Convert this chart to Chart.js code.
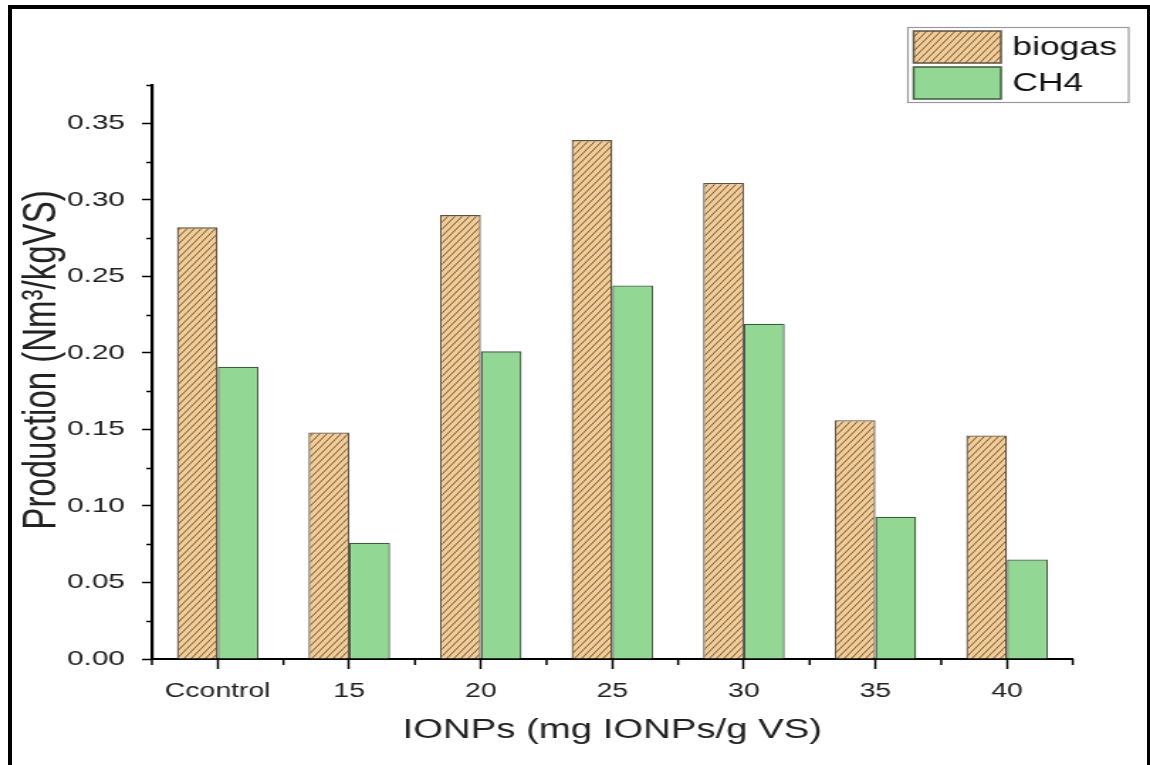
<!DOCTYPE html>
<html>
<head>
<meta charset="utf-8">
<script src="https://cdn.jsdelivr.net/npm/chart.js@4.4.1/dist/chart.umd.min.js"></script>
<style>
  html, body { margin: 0; padding: 0; background: #ffffff; }
  #wrap { position: relative; width: 1150px; height: 765px; overflow: hidden; }
  #stretch { position: absolute; left: 0; top: 0; width: 810px; height: 765px;
             transform: scaleX(1.419753); transform-origin: 0 0; }
  #c { display: block; }
  #frame { position: absolute; left: 8px; top: 5px; width: 1135px; height: 800px;
           border-left: 4px solid #000; border-top: 4px solid #000; border-right: 3px solid #000;
           pointer-events: none; }
</style>
</head>
<body>
<div id="wrap">
  <div id="stretch"><canvas id="c" width="810" height="765"></canvas></div>
  <div id="frame"></div>
</div>
<script>
// ---- data ----
const categories = ['Ccontrol', '15', '20', '25', '30', '35', '40'];
const biogas = [0.282, 0.148, 0.290, 0.339, 0.311, 0.156, 0.146];
const ch4 = [0.191, 0.076, 0.201, 0.244, 0.219, 0.093, 0.065];
const seriesNames = ['biogas', 'CH4'];
const yTicksMajor = [0, 0.05, 0.10, 0.15, 0.20, 0.25, 0.30, 0.35];
const yTitle = 'Production (Nm³/kgVS)';
const xTitle = 'IONPs (mg IONPs/g VS)';

const FONT = '"Liberation Sans", Arial, Helvetica, sans-serif';

function hatchPattern() {
  const w = 5, h = 7;
  const cv = document.createElement('canvas');
  cv.width = w; cv.height = h;
  const g = cv.getContext('2d');
  g.fillStyle = '#f4cd96';
  g.fillRect(0, 0, w, h);
  g.strokeStyle = '#6e5a44';
  g.lineWidth = 1.0;
  g.beginPath();
  g.moveTo(-w, 2 * h); g.lineTo(2 * w, -h);
  g.moveTo(-2 * w, 2 * h); g.lineTo(w, -h);
  g.moveTo(0, 2 * h); g.lineTo(3 * w, -h);
  g.stroke();
  const ctx = document.getElementById('c').getContext('2d');
  return ctx.createPattern(cv, 'repeat');
}
const hatch = hatchPattern();

const minorTicks = {
  id: 'minorTicks',
  afterDraw(chart) {
    const ctx = chart.ctx;
    const y = chart.scales.y, x = chart.scales.x;
    ctx.save();
    ctx.strokeStyle = '#000';
    ctx.lineWidth = 1.5;
    ctx.beginPath();
    for (let i = 0; i < yTicksMajor.length; i++) {
      const v = yTicksMajor[i] + 0.025;
      const py = Math.round(y.getPixelForValue(v)) + 0.5;
      ctx.moveTo(y.right - 4, py); ctx.lineTo(y.right, py);
    }
    for (let i = 0; i <= categories.length; i++) {
      const px = x.getPixelForValue(i - 0.5);
      ctx.moveTo(px, x.top); ctx.lineTo(px, x.top + 6);
    }
    ctx.stroke();
    ctx.restore();
  }
};

const yTitlePlugin = {
  id: 'yTitlePlugin',
  afterDraw(chart) {
    const ctx = chart.ctx;
    const ca = chart.chartArea;
    ctx.save();
    ctx.translate(29.6, (ca.top + ca.bottom) / 2 - 12);
    ctx.rotate(-Math.PI / 2);
    ctx.fillStyle = '#222';
    ctx.font = '33px ' + FONT;
    ctx.textAlign = 'center';
    ctx.textBaseline = 'middle';
    ctx.fillText(yTitle, 0, 0);
    ctx.restore();
  }
};

const boxLegend = {
  id: 'boxLegend',
  afterDraw(chart) {
    const ctx = chart.ctx;
    const ds = chart.data.datasets;
    const bx = 639.5, by = 27, bw = 155.5, bh = 75;
    ctx.save();
    ctx.strokeStyle = '#9a9a9a';
    ctx.lineWidth = 1.2;
    ctx.strokeRect(bx, by + 0.5, bw, bh);
    ds.forEach((d, i) => {
      const sy = by + 4 + i * 36;
      ctx.fillStyle = d.backgroundColor;
      ctx.fillRect(bx + 4, sy, 61.5, 32);
      ctx.strokeStyle = d.borderColor;
      ctx.lineWidth = 1.5;
      ctx.strokeRect(bx + 4, sy, 61.5, 32);
      ctx.fillStyle = '#111';
      ctx.font = '25px ' + FONT;
      ctx.textBaseline = 'middle';
      ctx.textAlign = 'left';
      ctx.fillText(d.label, bx + 73.5, sy + 17);
    });
    ctx.restore();
  }
};

new Chart(document.getElementById('c'), {
  type: 'bar',
  data: {
    labels: categories,
    datasets: [
      { label: seriesNames[0], data: biogas, backgroundColor: hatch, borderColor: '#5e5040', borderWidth: 1.3 },
      { label: seriesNames[1], data: ch4, backgroundColor: '#93d794', borderColor: '#3e5c3e', borderWidth: 1.3 }
    ]
  },
  options: {
    responsive: false,
    animation: false,
    devicePixelRatio: 1,
    layout: { padding: { left: 0, right: 54.4, top: 85, bottom: 0 } },
    plugins: { legend: { display: false }, tooltip: { enabled: false } },
    datasets: { bar: { categoryPercentage: 0.62, barPercentage: 1.0 } },
    scales: {
      x: {
        afterFit(s) { s.height = 106; },
        grid: { offset: false, drawOnChartArea: false, drawTicks: true, tickLength: 10, tickColor: '#000', tickWidth: 1.5 },
        border: { display: true, color: '#000', width: 2 },
        ticks: { color: '#222', font: { family: FONT, size: 20 }, padding: 10, maxRotation: 0 },
        title: { display: true, text: xTitle, color: '#222', font: { family: FONT, size: 27 }, padding: { top: 0, bottom: 18 } }
      },
      y: {
        min: 0, max: 0.375,
        afterFit(s) { s.width = 107; },
        grid: { drawOnChartArea: false, drawTicks: true, tickLength: 7, tickColor: '#000', tickWidth: 1.5 },
        border: { display: true, color: '#000', width: 2.2 },
        ticks: { stepSize: 0.05, includeBounds: false, color: '#222', font: { family: FONT, size: 21 }, padding: 12,
                 callback: (v) => Number(v).toFixed(2) },
        title: { display: false }
      }
    }
  },
  plugins: [minorTicks, yTitlePlugin, boxLegend]
});
</script>
</body>
</html>
